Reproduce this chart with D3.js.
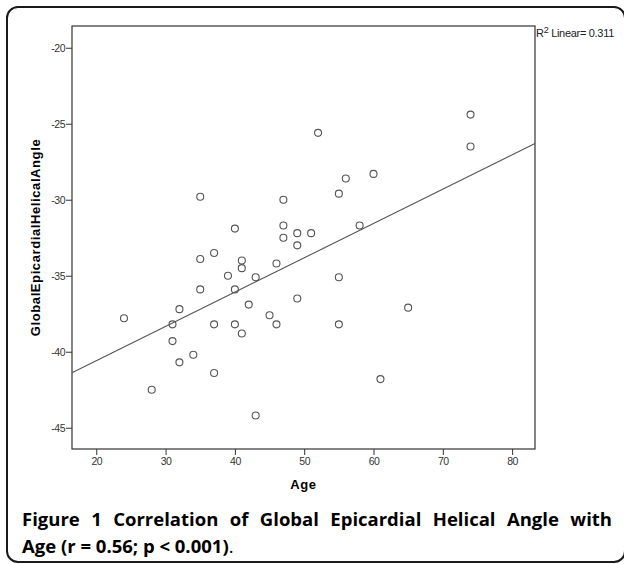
<!DOCTYPE html>
<html>
<head>
<meta charset="utf-8">
<title>Age vs Global Epicardial Helical Angle</title>
<script src="https://cdn.jsdelivr.net/npm/d3@7"></script>
<style>
body { margin: 0; background: #fff; }
</style>
</head>
<body>
<script>
// ages and helical angles
var ages   = [24, 28, 31, 31, 32, 32, 34, 35, 35, 35, 37, 37, 37, 39, 40, 40, 40, 41, 41, 41, 42, 43,
              43, 45, 46, 46, 47, 47, 47, 49, 49, 49, 51, 52, 55, 55, 55, 56, 58, 60, 61, 65, 74, 74];
var angles = [-37.8, -42.5, -38.2, -39.3, -37.2, -40.7, -40.2, -29.8, -33.9, -35.9, -33.5, -38.2, -41.4, -35.0,
              -31.9, -35.9, -38.2, -34.0, -34.5, -38.8, -36.9, -35.1, -44.2, -37.6, -34.2, -38.2, -30.0, -31.7,
              -32.5, -32.2, -33.0, -36.5, -32.2, -25.6, -29.6, -35.1, -38.2, -28.6, -31.7, -28.3, -41.8, -37.1,
              -24.4, -26.5];
var xTicks = [20, 30, 40, 50, 60, 70, 80];
var yTicks = [-20, -25, -30, -35, -40, -45];
var r2Text = "0.311";
var captionBold = "Figure 1 Correlation of Global Epicardial Helical Angle with Age (r = 0.56; p < 0.001)";

var w = 624,
    h = 564;

var svg = d3.select("body")
            .append("svg")
            .attr("width", w)
            .attr("height", h);

// outer rounded frame
svg.append("rect")
    .attr("x", 7).attr("y", 7)
    .attr("width", 618).attr("height", 555)
    .attr("rx", 11)
    .attr("fill", "none")
    .attr("stroke", "#1a1a1a")
    .attr("stroke-width", 2);

var pLeft = 72, pRight = 535, pTop = 26, pBottom = 449;

var x = d3.scaleLinear().domain([16.5, 83.3]).range([pLeft, pRight]);
var y = d3.scaleLinear().domain([-46.4, -18.57]).range([pBottom, pTop]);

// plot box
svg.append("rect")
    .attr("x", pLeft).attr("y", pTop)
    .attr("width", pRight - pLeft).attr("height", pBottom - pTop)
    .attr("fill", "none")
    .attr("stroke", "#333")
    .attr("stroke-width", 1.2);

var xAxis = svg.append("g")
    .attr("transform", "translate(0," + pBottom + ")")
    .call(d3.axisBottom(x).tickValues(xTicks).tickSize(6).tickPadding(3).tickFormat(function(d) { return String(d); }));
var yAxis = svg.append("g")
    .attr("transform", "translate(" + pLeft + ",0)")
    .call(d3.axisLeft(y).tickValues(yTicks).tickSize(6).tickPadding(1).tickFormat(function(d) { return String(d); }));

[xAxis, yAxis].forEach(function(g) {
    g.select(".domain").remove();
    g.selectAll("line").attr("stroke", "#333");
    g.selectAll("text")
        .attr("fill", "#333")
        .style("font-family", "'Liberation Sans Narrow', 'Liberation Sans', Arial, sans-serif")
        .style("font-size", "10.5px")
        .style("letter-spacing", "-0.5px");
});

// least squares fit through the points
var mx = d3.mean(ages), my = d3.mean(angles);
var sxy = d3.sum(ages, function(a, i) { return (a - mx) * (angles[i] - my); });
var sxx = d3.sum(ages, function(a) { return (a - mx) * (a - mx); });
var slope = sxy / sxx, intercept = my - slope * mx;
var xd = x.domain();

svg.append("line")
    .attr("x1", x(xd[0])).attr("y1", y(intercept + slope * xd[0]))
    .attr("x2", x(xd[1])).attr("y2", y(intercept + slope * xd[1]))
    .attr("stroke", "#555")
    .attr("stroke-width", 1.1);

svg.selectAll("circle")
    .data(ages)
    .enter()
    .append("circle")
    .attr("cx", function(d) { return x(d); })
    .attr("cy", function(d, i) { return y(angles[i]); })
    .attr("r", 3.5)
    .attr("fill", "none")
    .attr("stroke", "#555")
    .attr("stroke-width", 1.1);

// R2 label
var r2 = svg.append("text")
    .attr("x", pRight + 1).attr("y", 37)
    .style("font-family", "'Liberation Sans', Arial, sans-serif")
    .style("font-size", "11px")
    .style("letter-spacing", "-0.3px")
    .attr("fill", "#222");
r2.append("tspan").text("R");
r2.append("tspan").attr("dy", -4).style("font-size", "9px").text("2");
r2.append("tspan").attr("dy", 4).text(" Linear= " + r2Text);

// axis titles
svg.append("text")
    .attr("x", (pLeft + pRight) / 2).attr("y", 489)
    .attr("text-anchor", "middle")
    .style("font-family", "'Liberation Sans', Arial, sans-serif")
    .style("font-size", "13px").style("font-weight", "bold")
    .style("letter-spacing", "0.6px")
    .text("Age");

svg.append("text")
    .attr("transform", "translate(40," + ((pTop + pBottom) / 2) + ") rotate(-90)")
    .attr("text-anchor", "middle")
    .style("font-family", "'Liberation Sans', Arial, sans-serif")
    .style("font-size", "13px").style("font-weight", "bold")
    .style("letter-spacing", "0.6px")
    .text("GlobalEpicardialHelicalAngle");

// caption, first line justified
var capFont = "'Open Sans', 'Noto Sans', sans-serif";
var words = captionBold.split(" ");
var line1 = words.slice(0, 9), line2 = words.slice(9);
var capX0 = 22, capX1 = 612;

var tmp = svg.append("g").style("font-family", capFont).style("font-size", "18.5px").style("font-weight", "bold");
var widths = line1.map(function(wd) {
    var t = tmp.append("text").text(wd);
    var len = t.node().getComputedTextLength();
    t.remove();
    return len;
});
var gap = (capX1 - capX0 - d3.sum(widths)) / (line1.length - 1);
var cx = capX0;
line1.forEach(function(wd, i) {
    tmp.append("text").attr("x", cx).attr("y", 526).text(wd);
    cx += widths[i] + gap;
});

var l2 = tmp.append("text").attr("x", capX0).attr("y", 553);
l2.append("tspan").text(line2.join(" "));
l2.append("tspan").style("font-weight", "normal").text(".");
</script>
</body>
</html>
